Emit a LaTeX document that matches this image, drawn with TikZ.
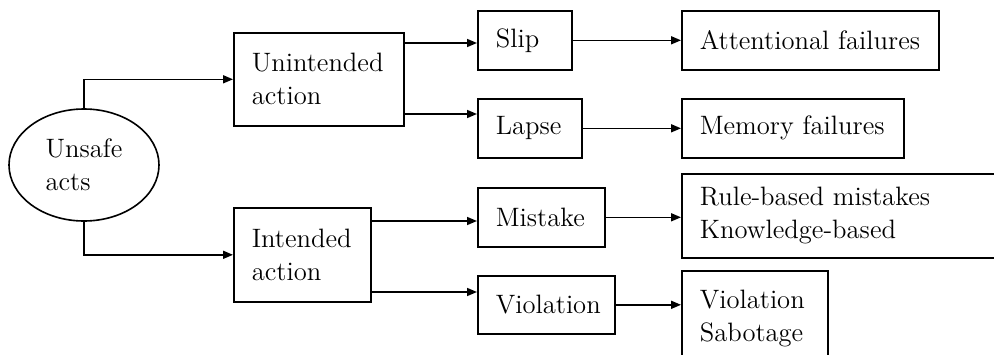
\documentclass[tikz,border=0pt]{standalone}
\usepackage{tikz}
\usetikzlibrary{arrows.meta,positioning,shapes.geometric}

\tikzset{
  box/.style={draw,line width=0.8pt,anchor=north west,align=left,inner xsep=9pt,inner ysep=0pt},
  arr/.style={->,line width=0.8pt}
}

\begin{document}
\begin{tikzpicture}[x=0.5pt,y=-0.5pt,>={Triangle[length=5pt,width=4pt]},font=\fontsize{13.3}{16.5}\selectfont]
  \useasboundingbox (0,0) rectangle (994,354);
  % root and the two kinds of action
  \node[draw,line width=0.8pt,ellipse,minimum width=75pt,minimum height=56pt,inner sep=0pt,align=left] (acts) at (84,165) {Unsafe\\acts};
  \node[box,text width=67pt,minimum height=46.5pt] (una) at (233,32) {Unintended\\action};
  \node[box,text width=50.5pt,minimum height=47pt] (ina) at (233,207) {Intended\\action};
  % error types
  \node[box,text width=29pt,minimum height=29.5pt] (slip) at (477,10) {Slip};
  \node[box,text width=34pt,minimum height=29.5pt] (lapse) at (477,98) {Lapse};
  \node[box,text width=45.5pt,minimum height=29.5pt] (mistake) at (477,187) {Mistake};
  \node[box,text width=50.5pt,minimum height=29pt] (viol) at (477,275) {Violation};
  % causes
  \node[box,text width=110.5pt,minimum height=29.5pt] (attn) at (681,10) {Attentional failures};
  \node[box,text width=93pt,minimum height=29.5pt] (memory) at (681,98) {Memory failures};
  \node[box,text width=147pt,minimum height=42pt] (rules) at (681,173) {Rule-based mistakes\\Knowledge-based};
  \node[box,text width=55pt,minimum height=61pt] (sabot) at (681,270) {Violation\\Sabotage\\\mbox{}};
  % connectors
  \draw[arr] (acts.north) |- (una.west);
  \draw[arr] (acts.south) |- (ina.west);
  \draw[arr] (una.east |- 0,43) -- (slip.west |- 0,43);
  \draw[arr] (una.east |- 0,114) -- (lapse.west |- 0,114);
  \draw[arr] (ina.east |- 0,221) -- (mistake.west |- 0,221);
  \draw[arr] (ina.east |- 0,292) -- (viol.west |- 0,292);
  \draw[arr] (slip.east) -- (slip.east -| attn.west);
  \draw[arr] (lapse.east) -- (lapse.east -| memory.west);
  \draw[arr] (mistake.east) -- (mistake.east -| rules.west);
  \draw[arr] (viol.east) -- (viol.east -| sabot.west);
\end{tikzpicture}
\end{document}
